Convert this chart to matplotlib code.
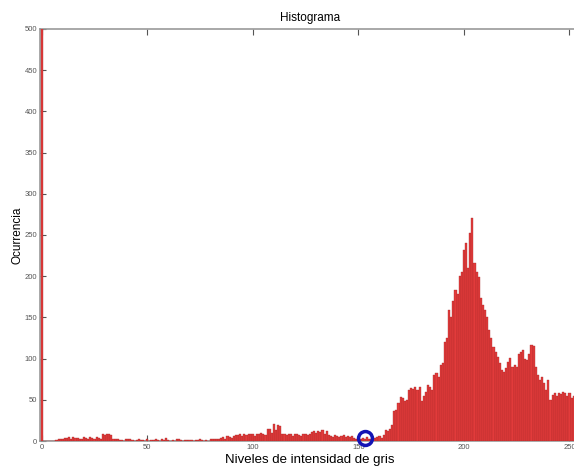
import numpy as np
import matplotlib
matplotlib.use("Agg")
import matplotlib.pyplot as plt

plt.rcParams['font.family'] = ['Liberation Sans', 'DejaVu Sans']

# gray level 0..255 occurrence counts
levels = np.arange(256)
counts = [
    2000, 0, 0, 0, 0, 0, 0, 1, 3, 2, 3, 4, 4, 5, 3, 5,
    4, 4, 2, 3, 5, 4, 3, 5, 4, 3, 5, 4, 2, 8, 7, 9,
    8, 7, 2, 3, 2, 1, 1, 0, 2, 2, 3, 1, 0, 1, 2, 1,
    1, 0, 2, 0, 1, 1, 2, 1, 0, 2, 1, 4, 1, 0, 1, 0,
    3, 2, 1, 0, 1, 1, 1, 1, 0, 1, 1, 2, 1, 0, 1, 0,
    3, 2, 3, 3, 2, 4, 5, 3, 6, 5, 4, 6, 7, 7, 8, 6,
    9, 7, 8, 9, 8, 6, 9, 8, 10, 9, 7, 14, 15, 10, 21, 13,
    19, 18, 8, 9, 7, 9, 8, 6, 9, 8, 7, 6, 8, 9, 7, 8,
    11, 12, 10, 12, 11, 13, 9, 12, 7, 6, 5, 7, 6, 5, 6, 7,
    5, 6, 5, 6, 4, 3, 2, 3, 4, 3, 5, 3, 2, 3, 4, 5,
    6, 4, 7, 13, 12, 14, 20, 36, 38, 46, 53, 52, 48, 50, 62, 64,
    63, 65, 62, 66, 48, 55, 60, 68, 66, 62, 80, 83, 78, 92, 95, 120,
    125, 159, 150, 170, 183, 178, 200, 205, 232, 240, 210, 252, 271, 216, 205, 199,
    174, 165, 159, 150, 135, 125, 114, 108, 102, 95, 86, 84, 88, 96, 101, 90,
    92, 90, 105, 108, 110, 100, 98, 105, 117, 115, 90, 80, 74, 78, 70, 62,
    74, 50, 56, 58, 55, 58, 57, 60, 58, 55, 58, 52, 55, 50, 52, 50,
]
assert len(counts) == 256

# point marked with the blue circle
mark_x, mark_y = 153, 3.5

fig = plt.figure(figsize=(5.74, 4.66), dpi=100)
ax = fig.add_axes([40 / 574, 25 / 466, 540 / 574, 412 / 466])

ax.bar(levels, counts, width=1.0, color='#e23b3b', edgecolor='#a82626',
       linewidth=0.25, zorder=3)
ax.plot([mark_x], [mark_y], 'o', markersize=10, markerfacecolor='none',
        markeredgecolor='#1414b4', markeredgewidth=2.5, clip_on=False,
        zorder=4)

ax.set_xlim(-0.8, 255)
ax.set_ylim(0, 500)
ax.set_xticks(np.arange(0, 251, 50))
ax.set_yticks(np.arange(0, 501, 50))
ax.tick_params(direction='in', top=True, right=True, length=4, width=0.8,
               labelsize=5.5, colors='#555555', pad=2)
for s in ax.spines.values():
    s.set_color('#999999')
    s.set_linewidth(1.2)

ax.set_title("Histograma", fontsize=8.5, pad=6)
ax.set_xlabel("Niveles de intensidad de gris", fontsize=9.5, labelpad=2)
ax.set_ylabel("Ocurrencia", fontsize=8.5, labelpad=1)

fig.savefig("out.png", dpi=100)
